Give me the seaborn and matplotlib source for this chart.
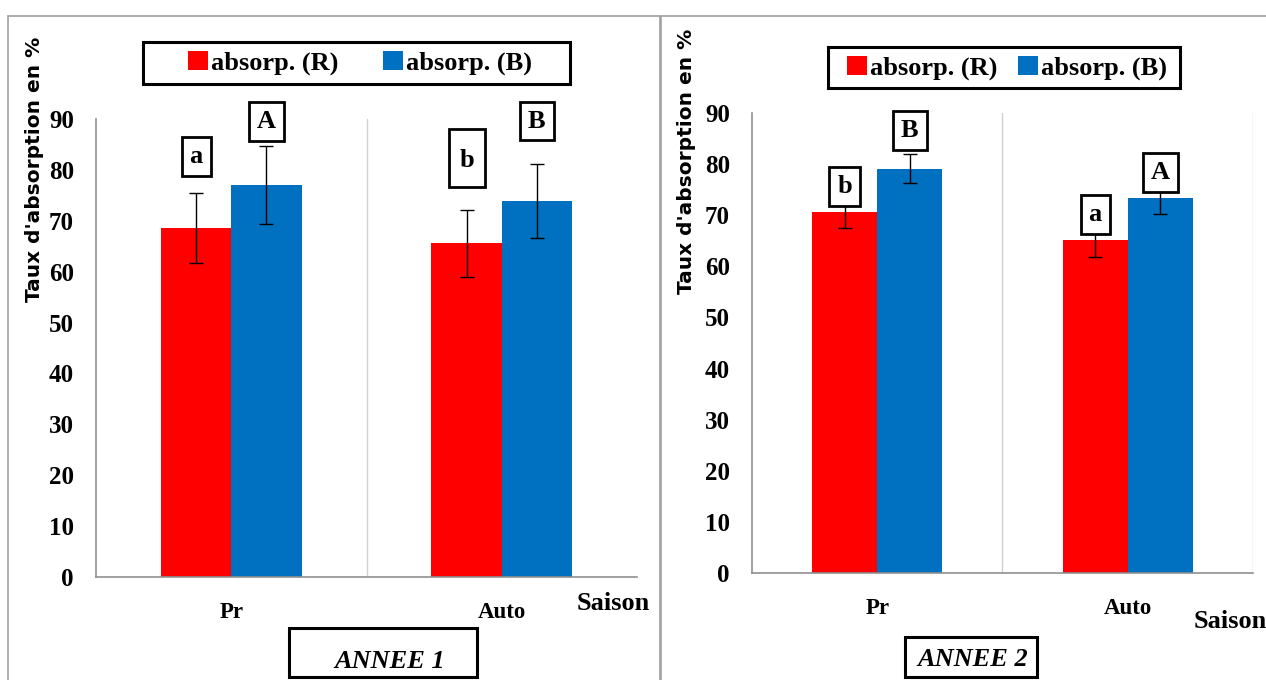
import numpy as np
import pandas as pd
import matplotlib
matplotlib.use("Agg")
import matplotlib.pyplot as plt
from matplotlib.patches import Rectangle, Patch
import seaborn as sns

# -----------------------
# Data
# -----------------------
saisons = ["Pr", "Auto"]
series = ["absorp. (R)", "absorp. (B)"]

annee1_R = [68.6, 65.6]
annee1_B = [77.0, 73.9]
annee1_err_R = [6.8, 6.6]
annee1_err_B = [7.6, 7.3]
annee1_lettres_R = ["a", "b"]
annee1_lettres_B = ["A", "B"]

annee2_R = [70.7, 65.1]
annee2_B = [79.1, 73.4]
annee2_err_R = [3.2, 3.3]
annee2_err_B = [2.8, 3.1]
annee2_lettres_R = ["b", "a"]
annee2_lettres_B = ["B", "A"]

yticks = [0, 10, 20, 30, 40, 50, 60, 70, 80, 90]

# ecart lettre / haut de la barre d'erreur (ordre: R-Pr, R-Auto, B-Pr, B-Auto)
pad1 = [7.3, 10.2, 4.9, 8.4]
pad2 = [1.8, 1.7, 4.7, 1.8]

colors = ["#FF0000", "#0070C0"]
SERIF = "Liberation Serif"
SANS = "DejaVu Sans"
W, H = 1266, 680


def fig_box(fig, x0, y0, x1, y1, lw=2.2, ec="black"):
    # rectangle en pixels (origine en haut a gauche)
    fig.patches.append(Rectangle((x0 / W, 1 - y1 / H), (x1 - x0) / W, (y1 - y0) / H,
                                 transform=fig.transFigure, fill=True, fc="white",
                                 ec=ec, lw=lw, zorder=3))


def make_df(r, b, er, eb):
    rows = []
    for i, s in enumerate(saisons):
        rows.append({"Saison": s, "serie": series[0], "val": r[i], "err": er[i]})
    for i, s in enumerate(saisons):
        rows.append({"Saison": s, "serie": series[1], "val": b[i], "err": eb[i]})
    return pd.DataFrame(rows)


def draw_panel(ax, df, lettres, pads, right_grid, tall_box=None):
    sns.barplot(data=df, x="Saison", y="val", hue="serie", order=saisons,
                hue_order=series, palette=colors, width=0.52, errorbar=None,
                saturation=1, linewidth=0, legend=False, ax=ax)
    bars = [p for p in ax.patches if p.get_height() > 0]
    for k, (p, (_, row), lt, pd_) in enumerate(zip(bars, df.iterrows(), lettres, pads)):
        xc = p.get_x() + p.get_width() / 2
        ax.errorbar(xc, row["val"], yerr=row["err"], fmt="none", ecolor="black",
                    elinewidth=1.0, capsize=5, capthick=1.0, zorder=4)
        yc = row["val"] + row["err"] + pd_
        if k == tall_box:
            ax.add_patch(Rectangle((xc - 0.066, yc - 5.7), 0.133, 11.4, fc="white",
                                   ec="black", lw=2, zorder=5))
            ax.text(xc, yc - 0.5, lt, ha="center", va="center", fontsize=19,
                    fontweight="bold", family=SERIF, zorder=6, color="black")
        else:
            ax.text(xc, yc, lt, ha="center", va="center",
                    fontsize=19, fontweight="bold", family=SERIF, zorder=5, color="black",
                    bbox=dict(boxstyle="square,pad=0.3", fc="white", ec="black", lw=2))
    ax.set_xlim(-0.5, 1.5)
    ax.set_ylim(0, 90)
    ax.set_yticks(yticks)
    ax.set_yticklabels([str(t) for t in yticks], fontsize=18, fontweight="bold",
                       family=SERIF)
    ax.set_xticks([0, 1])
    ax.set_xticklabels(saisons, fontsize=16.5, fontweight="bold", family=SERIF)
    ax.set_xticks([-0.5, 0.5, 1.5], minor=True)
    ax.tick_params(axis="x", which="major", length=0, pad=18, labelcolor="black")
    ax.tick_params(axis="x", which="minor", length=10, color="#909090", direction="inout")
    ax.tick_params(axis="y", length=12, color="#909090", direction="inout", pad=10,
                   labelcolor="black")
    for s in ["top", "right"]:
        ax.spines[s].set_visible(False)
    for s in ["left", "bottom"]:
        ax.spines[s].set_color("#909090")
        ax.spines[s].set_linewidth(1.2)
    ax.axvline(0.5, color="#d0d0d0", lw=1, zorder=0)
    if right_grid:
        ax.axvline(1.5, color="#d0d0d0", lw=1, zorder=0)
    ax.set_xlabel("")
    ax.set_ylabel("Taux d'absorption en %", fontsize=14.5, fontweight="bold",
                  family=SANS, color="black")


sns.set_style("white")
plt.rcParams["text.color"] = "black"
fig = plt.figure(figsize=(12.66, 6.8), dpi=100)

# cadres des deux panneaux
fig.patches.append(Rectangle((8 / W, -0.01), 652 / W, 1 - 16 / H + 0.01,
                             transform=fig.transFigure, fill=False, ec="#a0a0a0", lw=1.2))
fig.patches.append(Rectangle((661 / W, -0.01), 610 / W, 1 - 16 / H + 0.01,
                             transform=fig.transFigure, fill=False, ec="#a0a0a0", lw=1.2))

ax1 = fig.add_axes([96 / W, 1 - 577 / H, 541 / W, 458 / H])
ax2 = fig.add_axes([752 / W, 1 - 573 / H, 501 / W, 460 / H])

df1 = make_df(annee1_R, annee1_B, annee1_err_R, annee1_err_B)
df2 = make_df(annee2_R, annee2_B, annee2_err_R, annee2_err_B)

draw_panel(ax1, df1, annee1_lettres_R + annee1_lettres_B, pad1, False, tall_box=1)
draw_panel(ax2, df2, annee2_lettres_R + annee2_lettres_B, pad2, True)
ax1.yaxis.set_label_coords(-0.096, 0.89)
ax2.yaxis.set_label_coords(-0.111, 0.895)

# legendes (cadre dessine a part)
fig_box(fig, 143, 42, 570, 84)
fig_box(fig, 828, 47, 1180, 88)
handles = [Patch(facecolor=c, edgecolor="none") for c in colors]
for loc_box, gap in [((360 / W, 1 - 63 / H), 1.7), ((1007 / W, 1 - 68 / H), 0.76)]:
    leg = fig.legend(handles, series, loc="center", bbox_to_anchor=loc_box,
                     ncol=2, frameon=False,
                     prop={"family": SERIF, "weight": "bold", "size": 19},
                     handlelength=0.75, handleheight=0.75, handletextpad=0.12,
                     columnspacing=gap, borderpad=0.0)
    leg.set_zorder(5)

# titres des axes x
fig.text(613 / W, 1 - 603 / H, "Saison", ha="center", va="center",
         fontsize=19, fontweight="bold", family=SERIF)
fig.text(1230 / W, 1 - 622 / H, "Saison", ha="center", va="center",
         fontsize=19, fontweight="bold", family=SERIF)

# encadres annee
fig_box(fig, 289, 628, 477, 677)
fig.text(390 / W, 1 - 662 / H, "ANNEE 1", ha="center", va="center", zorder=5,
         fontsize=19, fontweight="bold", style="italic", family=SERIF)
fig_box(fig, 905, 637, 1037, 677)
fig.text(973 / W, 1 - 659 / H, "ANNEE 2", ha="center", va="center", zorder=5,
         fontsize=19, fontweight="bold", style="italic", family=SERIF)

fig.savefig("out.png", dpi=100)
